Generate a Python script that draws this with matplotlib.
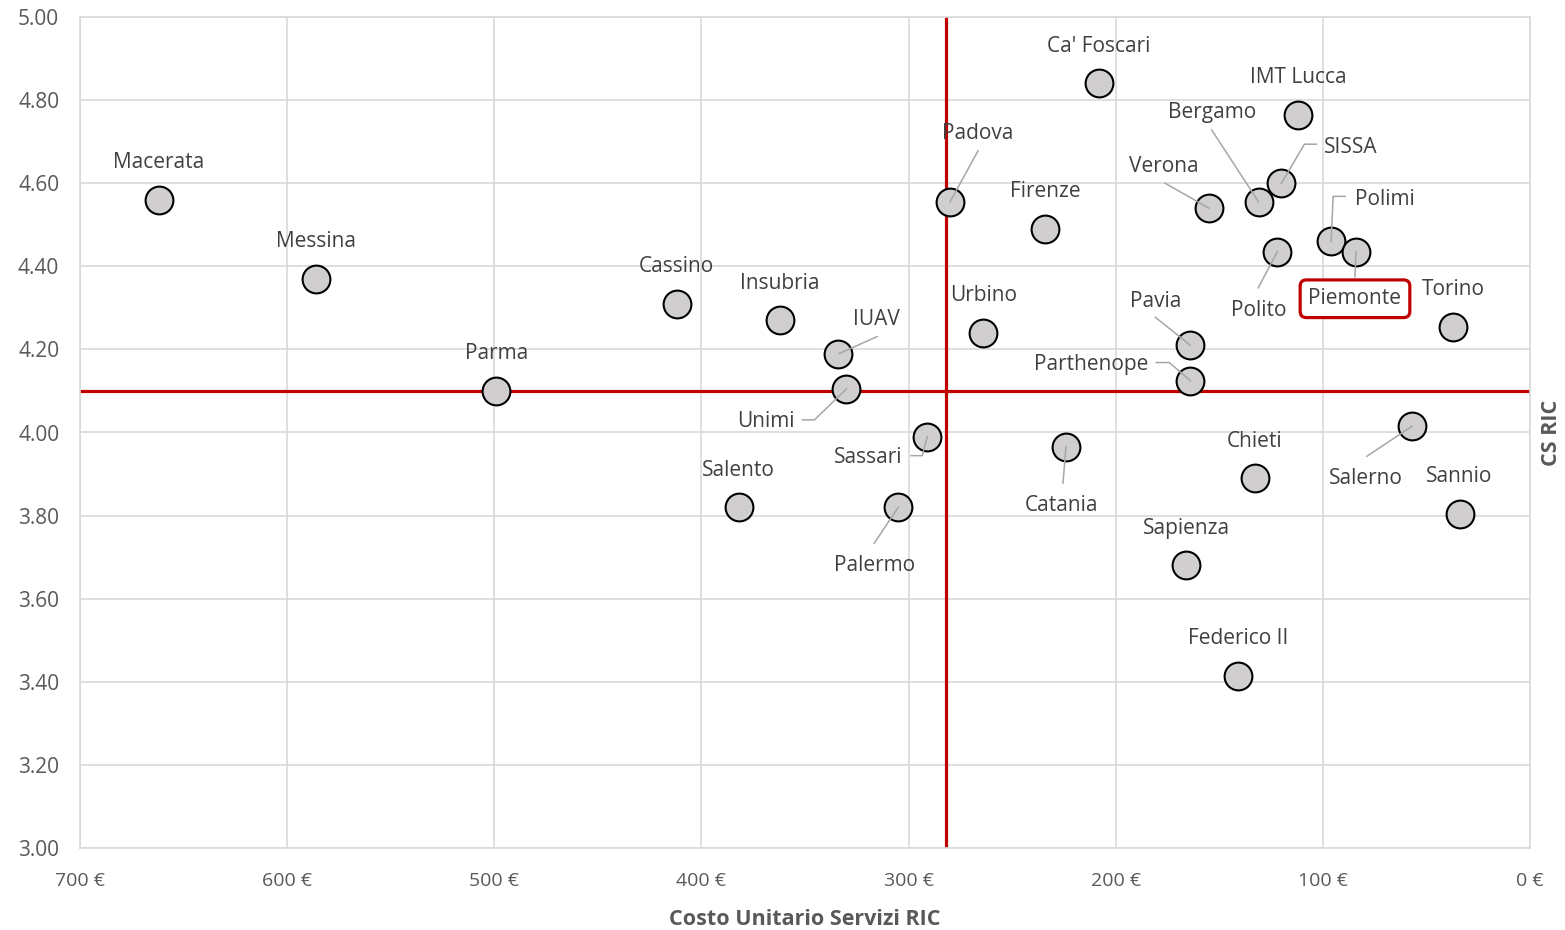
import matplotlib
matplotlib.use('Agg')
import matplotlib.pyplot as plt
import matplotlib.transforms as mtrans
from matplotlib.ticker import MultipleLocator, FuncFormatter

# data
atenei = ['Macerata', 'Messina', 'Parma', 'Cassino', 'Insubria', 'IUAV', 'Unimi',
          'Salento', 'Palermo', 'Sassari', 'Padova', 'Urbino', 'Firenze', "Ca' Foscari",
          'Catania', 'Pavia', 'Parthenope', 'Sapienza', 'Federico II', 'Chieti',
          'Verona', 'Bergamo', 'Polito', 'SISSA', 'IMT Lucca', 'Polimi', 'Piemonte',
          'Torino', 'Salerno', 'Sannio']
costo = [662, 586, 499, 412, 362, 334, 330,
         382, 305, 291, 280, 264, 234, 208,
         224, 164, 164, 166, 141, 133,
         155, 131, 122, 120, 112, 96, 84,
         37, 57, 34]
cs_ric = [4.56, 4.37, 4.10, 4.31, 4.27, 4.19, 4.105,
          3.82, 3.82, 3.99, 4.555, 4.24, 4.49, 4.84,
          3.965, 4.21, 4.125, 3.68, 3.415, 3.89,
          4.54, 4.555, 4.435, 4.60, 4.765, 4.46, 4.435,
          4.255, 4.015, 3.805]
soglia_costo = 282
soglia_cs = 4.10

# label offsets (px, y up) and leader lines (px vertices relative to point)
above = (0, 37)
lab_off = {'IUAV': (38, 34), 'Unimi': (-81, -33), 'Palermo': (-24, -58),
           'Sassari': (-59, -21), 'Padova': (28, 68), 'Catania': (-4, -58),
           'Pavia': (-35, 44), 'Parthenope': (-99, 16), 'Verona': (-45, 42),
           'Bergamo': (-47, 89), 'Polito': (-19, -59), 'SISSA': (69, 36),
           'Polimi': (54, 42), 'Piemonte': (-1, -47), 'Salerno': (-46, -52)}
leaders = {'IUAV': [(39, 17), (1, 0)],
           'Unimi': [(-44, -31), (-32, -31), (0, 0)],
           'Sassari': [(-16, -19), (-5, -19), (0, 0)],
           'Palermo': [(-24, -36), (0, 0)],
           'Catania': [(-3, -36), (0, 0)],
           'Padova': [(28, 51), (0, 0)],
           'Pavia': [(-35, 28), (0, 0)],
           'Parthenope': [(-34, 18), (-21, 18), (0, 0)],
           'Verona': [(-44, 25), (0, 0)],
           'Bergamo': [(-47, 72), (0, 0)],
           'SISSA': [(35, 39), (23, 39), (0, 0)],
           'Polito': [(-19, -36), (0, 0)],
           'Polimi': [(14, 45), (2, 45), (0, 0)],
           'Piemonte': [(-1, -25), (0, 0)],
           'Salerno': [(-45, -30), (0, 0)]}

txt = '#404040'
tick_col = '#595959'
red = '#c00000'
plt.rcParams['font.family'] = ['Open Sans', 'DejaVu Sans']

fig = plt.figure(figsize=(15.65, 9.30), dpi=100)
ax = fig.add_axes([80/1565, 1-848/930, 1450/1565, 831/930])

ax.set_xlim(700, 0)
ax.set_ylim(3.0, 5.0)
ax.xaxis.set_major_locator(MultipleLocator(100))
ax.yaxis.set_major_locator(MultipleLocator(0.2))
ax.xaxis.set_major_formatter(FuncFormatter(lambda v, p: '%d €' % round(v)))
ax.yaxis.set_major_formatter(FuncFormatter(lambda v, p: '%.2f' % v))
ax.grid(True, color='#d9d9d9', lw=1.2, zorder=0)
ax.set_axisbelow(True)
for s in ax.spines.values():
    s.set_color('#d9d9d9')
    s.set_linewidth(1.2)
ax.tick_params(length=0, labelcolor=tick_col)
ax.tick_params(axis='y', pad=15, labelsize=15)
ax.tick_params(axis='x', pad=17, labelsize=14)

ax.axvline(soglia_costo, color=red, lw=2.3, zorder=2)
ax.axhline(soglia_cs, color=red, lw=2.3, zorder=2)

ax.scatter(costo, cs_ric, s=400, facecolor='#d0cece', edgecolor='black',
           linewidth=1.5, zorder=3)

for name, x, y in zip(atenei, costo, cs_ric):
    dx, dy = lab_off.get(name, above)
    kw = {}
    if name == 'Piemonte':
        kw['bbox'] = dict(boxstyle='round,pad=0.4,rounding_size=0.3',
                          fc='white', ec=red, lw=2.3)
    ax.annotate(name, (x, y), xytext=(dx*0.72, dy*0.72), textcoords='offset points',
                ha='center', va='center', fontsize=15, color=txt, zorder=5, **kw)
    if name in leaders:
        tr = fig.dpi_scale_trans + mtrans.ScaledTranslation(x, y, ax.transData)
        vx = [p[0]/100 for p in leaders[name]]
        vy = [p[1]/100 for p in leaders[name]]
        ax.plot(vx, vy, color='#a6a6a6', lw=1.1, transform=tr, zorder=4,
                clip_on=False)

ax.set_xlabel('Costo Unitario Servizi RIC', fontsize=15.5, fontweight='bold',
              color=tick_col, labelpad=14)
ax.yaxis.set_label_position('right')
ax.set_ylabel('CS RIC', fontsize=15.5, fontweight='bold', color=tick_col,
              labelpad=8, rotation=90)

fig.savefig('out.png', dpi=100)
